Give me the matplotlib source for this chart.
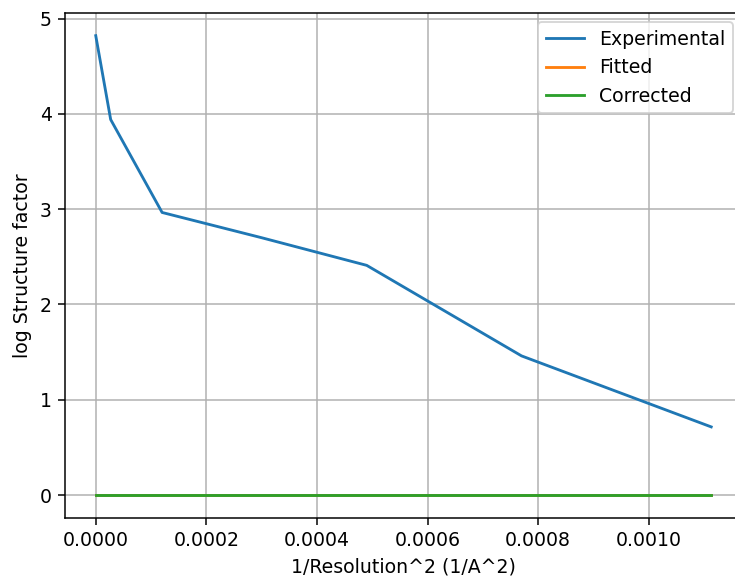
import matplotlib
matplotlib.use("Agg")
import matplotlib.pyplot as plt
import numpy as np

# resolution bins (1/d^2) and log structure factor
inv_res2 = np.array([0.0, 0.000027, 0.00012, 0.0003, 0.00049, 0.00077, 0.001113])
experimental = np.array([4.82, 3.94, 2.965, 2.70, 2.41, 1.46, 0.715])
fitted = np.array([0.0, 0.0, 0.0, 0.0, 0.0, 0.0, 0.0])
corrected = np.array([0.0, 0.0, 0.0, 0.0, 0.0, 0.0, 0.0])

dpi = 136
fig = plt.figure(figsize=(735 / dpi, 578 / dpi), dpi=dpi)
# axes runs past the right edge of the picture, as in the reference
plt.subplots_adjust(left=0.0884, right=1.0095, top=0.978, bottom=0.1038)
plt.plot(inv_res2, experimental, label="Experimental")
plt.plot(inv_res2, fitted, label="Fitted")
plt.plot(inv_res2, corrected, label="Corrected")
plt.xlabel("1/Resolution^2 (1/A^2)")
plt.ylabel("log Structure factor")
plt.grid()
plt.legend(loc="upper right")
plt.savefig("out.png", dpi=dpi)
